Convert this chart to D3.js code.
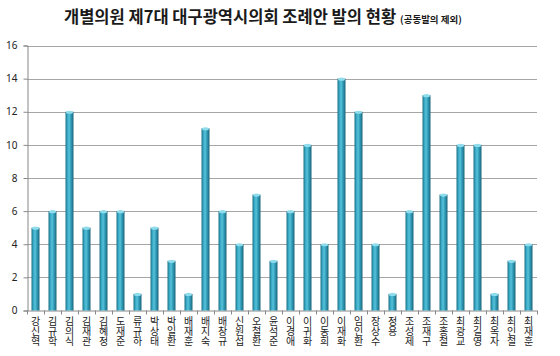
<!DOCTYPE html>
<html><head><meta charset="utf-8">
<script src="https://cdn.jsdelivr.net/npm/d3@7"></script>
<style>body{margin:0;background:#fff}svg{display:block;font-family:"Noto Sans CJK KR","Noto Sans",sans-serif}</style>
</head><body><svg id="c" width="560" height="356"></svg>
<script>
const names = ["강신혁","김규학","김의식","김재관","김혜정","도재준","류규하","박상태","박일환","배재훈","배지숙","배창규","신원섭","오철환","윤석준","이경애","이귀화","이동희","이재화","임인환","장상수","정용","조성제","조재구","조홍철","최광교","최길영","최옥자","최인철","최재훈"];
const values = [5,6,12,5,6,6,1,5,3,1,11,6,4,7,3,6,10,4,14,12,4,1,6,13,7,10,10,1,3,4];
const yTicks = [0,2,4,6,8,10,12,14,16];
const titleMain = "개별의원 제7대 대구광역시의회 조례안 발의 현황";
const titleSub = "(공동발의 제외)";

const svg = d3.select("#c");
const L = 27, R = 537, T = 45.5, B = 310.5;
const x = d3.scaleBand().domain(names).range([L, R]);
const y = d3.scaleLinear().domain([0,16]).range([B, T]);

const defs = svg.append("defs");
const g = defs.append("linearGradient").attr("id","bar").attr("x1","0").attr("x2","1").attr("y1","0").attr("y2","0");
[[0,"#1c6f86"],[0.25,"#3aa9c4"],[0.45,"#55c2db"],[0.7,"#2f98b3"],[1,"#1a657b"]].forEach(s=>g.append("stop").attr("offset",s[0]).attr("stop-color",s[1]));

// gridlines
svg.append("g").selectAll("line").data(yTicks.filter(d=>d>0)).join("line")
  .attr("x1",L).attr("x2",R).attr("y1",d=>Math.round(y(d))+0.5).attr("y2",d=>Math.round(y(d))+0.5)
  .attr("stroke","#a6a6a6").attr("stroke-width",1);

// y axis
const ya = svg.append("g").attr("transform",`translate(${L+0.5},0)`)
  .call(d3.axisLeft(y).tickValues(yTicks).tickSize(4).tickPadding(6));
ya.selectAll("text").attr("font-size",10).attr("fill","#222").attr("font-family","Noto Sans, sans-serif");
ya.selectAll("line,path").attr("stroke","#888");

// x axis baseline & ticks
const xa = svg.append("g");
xa.append("line").attr("x1",L).attr("x2",R).attr("y1",B+0.5).attr("y2",B+0.5).attr("stroke","#888");
xa.selectAll("line.t").data(d3.range(names.length+1)).join("line").attr("class","t")
  .attr("x1",i=>Math.round(L+i*x.step())+0.5).attr("x2",i=>Math.round(L+i*x.step())+0.5)
  .attr("y1",B).attr("y2",B+4).attr("stroke","#888");

// bars
const bw = 8;
const bars = svg.append("g").selectAll("g").data(values).join("g");
bars.append("rect")
  .attr("x",(d,i)=>x(names[i])+x.bandwidth()/2-bw/2).attr("width",bw)
  .attr("y",d=>y(d)).attr("height",d=>B-y(d)).attr("fill","url(#bar)");
bars.append("ellipse")
  .attr("cx",(d,i)=>x(names[i])+x.bandwidth()/2).attr("cy",d=>y(d)+0.5)
  .attr("rx",bw/2-0.5).attr("ry",1.6).attr("fill","#8fdcec");

// x labels (vertical writing mode)
svg.append("g").selectAll("text").data(names).join("text")
  .attr("x",d=>x(d)+x.bandwidth()/2).attr("y",316)
  .attr("writing-mode","vertical-rl").style("text-orientation","upright")
  .attr("letter-spacing",0).attr("font-size",10).attr("fill","#222").text(d=>d);

// title
const t = svg.append("text").attr("x",64).attr("y",23).attr("fill","#1a1a1a");
t.append("tspan").attr("font-size",16.5).attr("font-weight","bold").text(titleMain);
t.append("tspan").attr("font-size",9.5).attr("font-weight","bold").attr("dx",4).text(titleSub);
</script></body></html>
